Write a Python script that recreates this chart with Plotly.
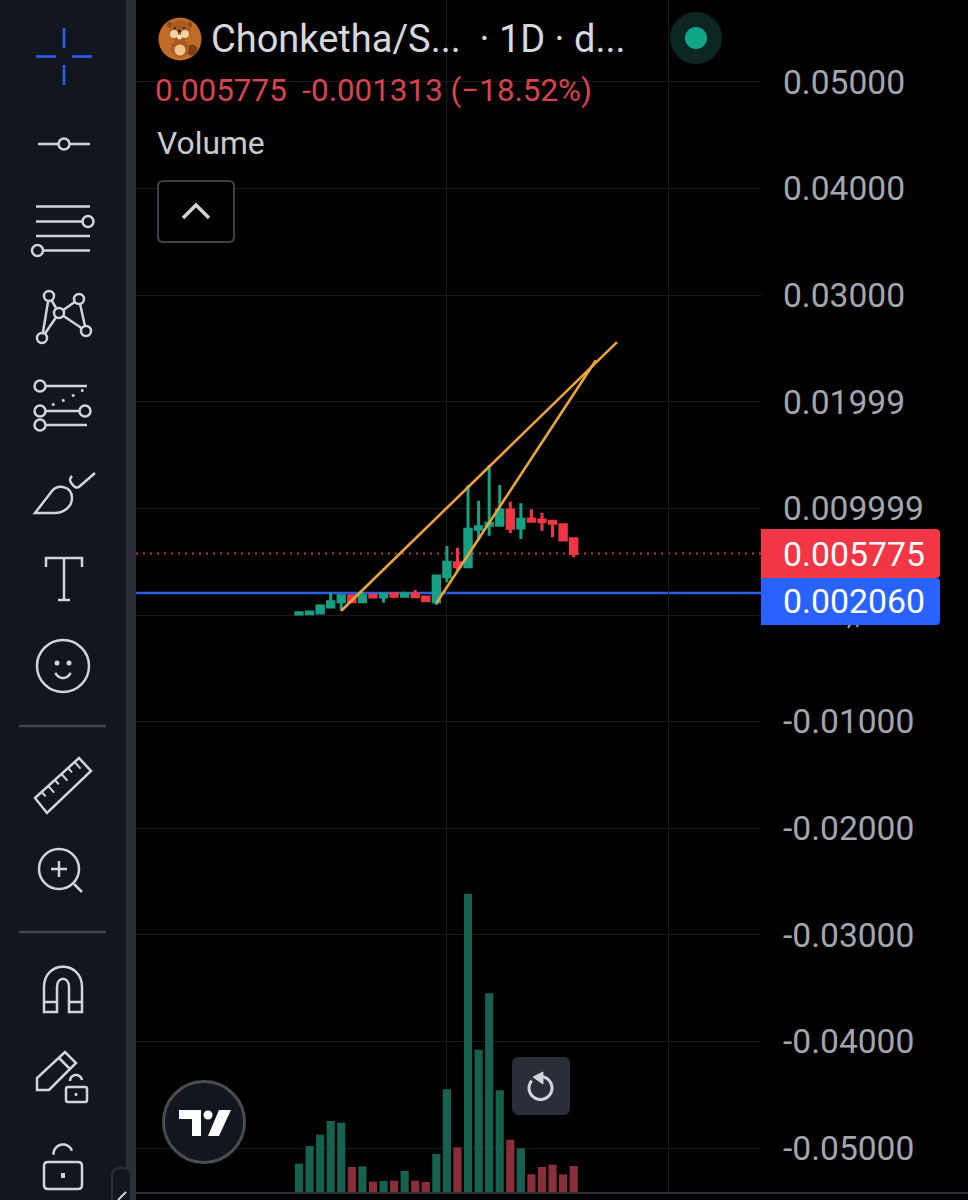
import math
import re
import plotly.graph_objects as go

# ---------- data ----------
bar_index = list(range(27))
opens  = [0.000094,0.000125,0.000188,0.000750,0.001251,0.001814,0.001251,0.001845,0.001689,0.002001,0.001751,0.001970,0.001689,0.001220,0.003596,0.004909,0.004534,0.008036,0.008412,0.008412,0.009850,0.008161,0.009006,0.008912,0.008787,0.008474,0.007161]
highs  = [0.000250,0.000407,0.001001,0.002095,0.001876,0.001876,0.002189,0.001970,0.002033,0.002126,0.002189,0.002345,0.001782,0.003752,0.006473,0.006317,0.012195,0.010725,0.014071,0.012195,0.010632,0.010475,0.009912,0.009600,0.008787,0.008474,0.007161]
lows   = [0.000063,0.000094,0.000156,0.000688,0.000375,0.001220,0.001251,0.001626,0.001157,0.001563,0.001720,0.001657,0.001313,0.000938,0.003064,0.004221,0.004534,0.007036,0.007442,0.008412,0.007661,0.007129,0.008755,0.007880,0.007286,0.006911,0.005410]
closes = [0.000219,0.000281,0.000844,0.001251,0.001814,0.001251,0.001814,0.001689,0.001939,0.001751,0.001970,0.001720,0.001345,0.003659,0.004941,0.004534,0.008036,0.008286,0.008599,0.009850,0.008130,0.008974,0.008787,0.008755,0.008599,0.007036,0.005775]
volumes = [28.3,46.0,57.3,71.0,69.3,25.0,25.7,10.3,11.0,11.3,21.0,11.3,10.0,38.0,102.7,44.7,298.3,142.3,198.7,101.7,52.3,43.7,17.7,25.0,27.3,17.7,26.0]
trend_upper_x = [4.0, 30.1]
trend_upper_y = [0.00040, 0.02560]
trend_lower_x = [13.0, 28.1]
trend_lower_y = [0.00110, 0.02390]
last_price = 0.005775
level_price = 0.002060
price_ticks = [0.05,0.04,0.03,0.02,0.01,0,-0.01,-0.02,-0.03,-0.04,-0.05]
price_labels = ["0.05000","0.04000","0.03000","0.01999","0.009999","","-0.01000","-0.02000","-0.03000","-0.04000","-0.05000"]
time_grid = [14, 35]

# ---------- colours ----------
UP, DOWN = "#17a184", "#f23645"
UPV, DOWNV = "#17614f", "#8a2f3a"
PANEL, STRIP, ICON = "#12161f", "#2a2e39", "#d1d4dc"
GRID = "#1a1a1a"
W, H = 968, 1200
FONT = "Roboto"

fig = go.Figure()
fig.add_bar(x=bar_index, y=volumes, yaxis="y2", width=0.77,
            marker=dict(color=[UPV if c >= o else DOWNV for o, c in zip(opens, closes)], line_width=0))
fig.add_candlestick(x=bar_index, open=opens, high=highs, low=lows, close=closes, whiskerwidth=0,
                    increasing=dict(line=dict(color=UP, width=3), fillcolor=UP),
                    decreasing=dict(line=dict(color=DOWN, width=3), fillcolor=DOWN))
for xs, ys in ((trend_upper_x, trend_upper_y), (trend_lower_x, trend_lower_y)):
    fig.add_scatter(x=xs, y=ys, mode="lines", line=dict(color="#e9a43c", width=2.6))

# ---------- pixel helpers for the app chrome ----------
def px(x): return x / W
def py(y): return 1 - y / H

def conv(path):
    toks = re.findall(r"[A-Za-z]|-?\d+\.?\d*", path)
    out, is_x = [], True
    for t in toks:
        if t.isalpha():
            out.append(t); is_x = True
        else:
            v = float(t)
            out.append(f"{px(v) if is_x else py(v):.6f}")
            is_x = not is_x
    return " ".join(out)

shapes = []
def path(d, color=ICON, w=2.5, fill=None, layer="above"):
    shapes.append(dict(type="path", xref="paper", yref="paper", path=conv(d), layer=layer,
                       line=dict(color=color, width=w), fillcolor=fill or "rgba(0,0,0,0)"))
def seg(x0, y0, x1, y1, color=ICON, w=2.5):
    shapes.append(dict(type="line", xref="paper", yref="paper", x0=px(x0), x1=px(x1), y0=py(y0), y1=py(y1),
                       line=dict(color=color, width=w)))
def circ(cx, cy, r, color=ICON, w=2.5, fill=PANEL):
    shapes.append(dict(type="circle", xref="paper", yref="paper", x0=px(cx-r), x1=px(cx+r), y0=py(cy-r), y1=py(cy+r),
                       line=dict(color=color, width=w), fillcolor=fill))
def box(x0, y0, x1, y1, fill, color=None, w=0, r=0):
    k = r
    d = (f"M {x0+k} {y0} L {x1-k} {y0} Q {x1} {y0} {x1} {y0+k} L {x1} {y1-k} Q {x1} {y1} {x1-k} {y1} "
         f"L {x0+k} {y1} Q {x0} {y1} {x0} {y1-k} L {x0} {y0+k} Q {x0} {y0} {x0+k} {y0} Z")
    path(d, color or "rgba(0,0,0,0)", w, fill)
def arc(cx, cy, r, a0, a1, n=24):
    pts = [(cx + r*math.cos(math.radians(a0+(a1-a0)*i/n)), cy + r*math.sin(math.radians(a0+(a1-a0)*i/n))) for i in range(n+1)]
    return "M " + " L ".join(f"{x:.2f} {y:.2f}" for x, y in pts)

# price reference lines (data coordinates, beneath the candles)
shapes.append(dict(type="line", xref="paper", yref="y", x0=px(136), x1=px(761), y0=last_price, y1=last_price, layer="below",
                   line=dict(color="#c0323f", width=2, dash="2px,5px")))
shapes.append(dict(type="line", xref="paper", yref="y", x0=px(136), x1=px(761), y0=level_price, y1=level_price, layer="below",
                   line=dict(color="#2b5fe6", width=2.5)))

# toolbar
box(0, 0, 126, 1200, PANEL)
box(126, 0, 136, 1200, STRIP)
# crosshair
B = "#2962ff"
seg(36, 56.5, 56, 56.5, B); seg(72, 56.5, 92, 56.5, B); seg(64, 28, 64, 48, B); seg(64, 65, 64, 85, B)
# trend line
seg(38, 144, 90, 144); circ(64, 144, 5.5)
# fib lines
seg(36, 206.5, 90, 206.5); seg(36, 221.5, 84, 221.5); circ(88, 221.5, 5.5)
seg(36, 236, 90, 236); seg(42, 250.5, 90, 250.5); circ(37.5, 250.5, 5.5)
# pattern
for a, b in (((49,296),(42,338)),((49,296),(59,313)),((59,313),(42,338)),((59,313),(79,299)),((59,313),(86,331)),((79,299),(86,331))):
    seg(*a, *b)
for c in ((49,296),(79,299),(59,313),(42,338),(86,331)):
    circ(*c, 5)
# forecast
seg(44, 386, 87, 386); circ(40, 386, 5.5)
seg(44, 411, 80, 411); circ(40, 411, 5.5); circ(85, 411, 5.5)
seg(44, 425, 87, 425); circ(40, 425, 5.5)
for x_, y_ in ((52,405),(62,401),(72,396),(81,391)):
    seg(x_, y_, x_+2.5, y_-1, ICON, 2.5)
# brush
path("M 35 513 L 52 491 C 58 484 72 486 72 498 C 72 508 62 513 55 513 Z")
path("M 72 476 Q 68 480 72 484 Q 76 490 80 486 L 95 473")
# text tool
path("M 46 567 L 46 558 L 82 558 L 82 567")
seg(64, 558, 64, 600); seg(58, 600, 70, 600)
# smiley
circ(63, 666, 26)
circ(57, 663, 1.5, ICON, 2, ICON); circ(69, 663, 1.5, ICON, 2, ICON)
path(arc(63, 670, 8, 160, 20))
seg(19, 726, 106, 726, "#434651", 2.5)
# ruler
path("M 35 798 L 79 758 L 91 771 L 47 813 Z")
for t in (0.15, 0.3, 0.45, 0.6, 0.75, 0.9):
    bx, by = 35 + 44*t, 798 - 40*t
    ln = 9 if t in (0.3, 0.6, 0.9) else 6
    seg(bx, by, bx + ln*0.67, by + ln*0.74, ICON, 2)
# zoom
circ(59, 869, 20)
seg(51, 869, 67, 869); seg(59, 861, 59, 877); seg(74, 884, 82, 892)
seg(19, 932, 106, 932, "#434651", 2.5)
# magnet
path("M 44 1012 L 44 987 C 44 960 82 960 82 987 L 82 1012 L 69 1012 L 69 987 C 69 976 57 976 57 987 L 57 1012 Z")
seg(44, 1002, 57, 1002); seg(69, 1002, 82, 1002)
# pencil + small lock
path("M 37 1090 L 37 1078 L 65 1052 L 76 1063 L 49 1090 Z")
seg(59, 1058, 70, 1069)
box(66, 1087, 87, 1102, PANEL, ICON, 2.5, 2)
path(arc(76, 1081, 6, 180, 350), ICON, 2.5)
seg(76, 1093, 76, 1096, ICON, 2.5)
# large lock
box(44, 1162, 82, 1189, PANEL, ICON, 2.5, 4)
path(arc(63, 1154, 9.5, 175, 340), ICON, 2.5)
seg(63, 1173, 63, 1178, ICON, 4)
# collapse tab
box(112, 1168, 131, 1215, PANEL, STRIP, 2, 8)
seg(118, 1200, 126, 1192, ICON, 2)

# time-scale border
seg(136, 1193, 968, 1193, STRIP, 2)

# header widgets: avatar (beaver)
circ(180, 39, 21.5, "#c06b27", 0, "#c06b27")
circ(192, 50, 5.5, "#7a3f14", 0, "#7a3f14")            # tail
circ(180, 48, 9, "#a85a20", 0, "#a85a20")              # body
circ(180, 50, 5.5, "#f0c48e", 0, "#f0c48e")            # belly
circ(170, 25, 3, "#8e4a18", 0, "#8e4a18"); circ(189, 25, 3, "#8e4a18", 0, "#8e4a18")
circ(180, 31, 10.5, "#a85a20", 0, "#a85a20")           # head
circ(174, 34, 4, "#f3d3a8", 0, "#f3d3a8"); circ(185, 34, 4, "#f3d3a8", 0, "#f3d3a8")
circ(179.5, 37, 2.5, "#f7e6cc", 0, "#f7e6cc")
circ(175, 28, 1, "#2a1608", 0, "#2a1608"); circ(184, 28, 1, "#2a1608", 0, "#2a1608")
circ(179.5, 31, 1.5, "#3a1f0c", 0, "#3a1f0c")
# status dot
circ(696, 38, 26, "#0c2622", 0, "#0c2622")
circ(696, 38, 11, "#12a688", 0, "#12a688")
# collapse button
box(158, 181, 234, 242, "#000000", "#3b3e45", 2, 5)
path("M 183 218 L 196 205 L 209 218", "#d1d4dc", 3.5)
# TV logo
circ(204, 1122, 40.5, "#4a4c52", 3, "#12161f")
path("M 179 1110 L 201 1110 L 201 1136 L 192 1136 L 192 1119 L 179 1119 Z", "#ffffff", 0, "#ffffff")
circ(208, 1115, 4.5, "#ffffff", 0, "#ffffff")
path("M 219 1110 L 231 1110 L 219 1136 L 208 1136 Z", "#ffffff", 0, "#ffffff")
# reset button
box(512, 1057, 570, 1115, "#2a2e39", None, 0, 7)
path(arc(540.5, 1088, 11.5, -80, 220), "#d1d4dc", 3)
path("M 533 1077 L 543 1072 L 543 1084 Z", "#d1d4dc", 1, "#d1d4dc")
# remnants of the hidden zero label below the blue tag
seg(851, 623, 848, 628, "#a3a6ae", 2); seg(858, 623, 857, 627, "#a3a6ae", 2)
# price tags
path(f"M 761 529 L 936 529 Q 940 529 940 533 L 940 574 Q 940 578 936 578 L 761 578 Z", "rgba(0,0,0,0)", 0, "#f23645")
path(f"M 761 578 L 936 578 Q 940 578 940 582 L 940 621 Q 940 625 936 625 L 761 625 Z", "rgba(0,0,0,0)", 0, "#2962ff")

def note(text, x, y, size, color):
    return dict(text=text, xref="paper", yref="paper", x=px(x), y=py(y), xanchor="left", yanchor="middle",
                showarrow=False, font=dict(family=FONT, size=size, color=color))

annotations = [
    note("Chonketha/S...\u00a0\u00a0· 1D · d...", 209, 39, 38, "#d6d8de"),
    note("0.005775\u00a0\u00a0-0.001313 (−18.52%)", 153, 91, 31.4, "#d9434f"),
    note("Volume", 155, 143, 31.8, "#c9cbd1"),
    note("0.005775", 781, 554, 33.8, "#ffffff"),
    note("0.002060", 781, 601, 33.8, "#ffffff"),
]

fig.update_layout(
    width=W, height=H, margin=dict(l=0, r=0, t=0, b=0), autosize=False,
    paper_bgcolor="#000000", plot_bgcolor="#000000", showlegend=False,
    barmode="overlay", boxgap=0.14,
    shapes=shapes, annotations=annotations,
    xaxis=dict(domain=[px(136), px(761)], range=[-15.43, 43.73], rangeslider=dict(visible=False),
               tickvals=time_grid, showticklabels=False, ticks="", showgrid=True, gridcolor=GRID, gridwidth=1,
               zeroline=False, showline=False, fixedrange=True),
    yaxis=dict(domain=[1 - 1193/H, 1], range=[-0.05422, 0.05769], side="right", tickvals=price_ticks, ticktext=price_labels,
               tickfont=dict(family=FONT, size=33.6, color="#a3a6ae"), ticks="", ticklabelstandoff=21,
               showgrid=True, gridcolor=GRID, gridwidth=1, zeroline=False, showline=False, fixedrange=True),
    yaxis2=dict(domain=[1 - 1193/H, 1], overlaying="y", range=[-1, 1192], visible=False, fixedrange=True),
)

fig.write_html("out.html", config=dict(displayModeBar=False, staticPlot=True),
               post_script="document.body.style.margin='0';document.body.style.overflow='hidden';document.body.style.background='#000';")
